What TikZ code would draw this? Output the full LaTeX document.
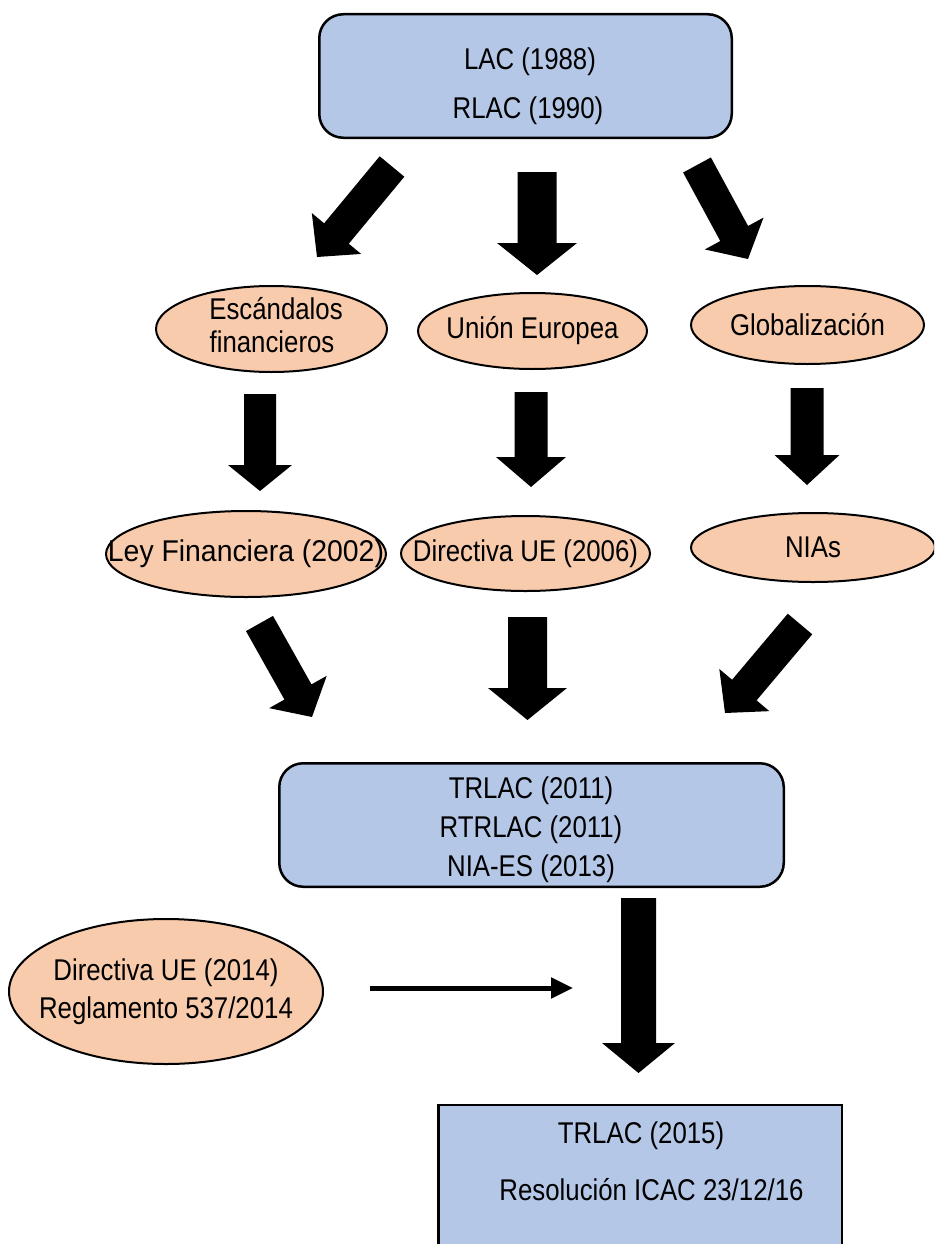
\documentclass[tikz,border=0pt]{standalone}
\usepackage{fontspec}
\usepackage{graphicx}
\setmainfont[FakeStretch=0.86]{Liberation Sans}
\usetikzlibrary{calc,shapes.geometric,arrows.meta}
\definecolor{boxblue}{HTML}{B4C7E7}
\definecolor{peach}{HTML}{F8CBAD}
% zero-width centred text, so that the ellipse keeps its own size
\newcommand\zw[1]{\makebox[0pt]{#1}}
% block arrow: #1 start coord, #2 tip coord, #3 half shaft width, #4 half head width, #5 head length
\newcommand\blockarrow[5]{%
  \path (#1) coordinate (ba-s) (#2) coordinate (ba-t) ($(#2)!#5pt!(#1)$) coordinate (ba-b);
  \fill[black] ($(ba-s)!#3pt!90:(ba-t)$) -- ($(ba-b)!#3pt!-90:(ba-s)$) -- ($(ba-b)!#4pt!-90:(ba-s)$)
    -- (ba-t) -- ($(ba-b)!#4pt!90:(ba-s)$) -- ($(ba-b)!#3pt!90:(ba-s)$) -- ($(ba-s)!#3pt!-90:(ba-t)$) -- cycle;}
\begin{document}
\begin{tikzpicture}[x=1pt,y=-1pt,
  txt/.style={font=\fontsize{30}{36}\selectfont, inner sep=0pt, anchor=base},
  bluebox/.style={draw=black, line width=2.5pt, fill=boxblue, inner sep=0pt},
  roundbox/.style={bluebox, rounded corners=24pt},
  oval/.style={draw=black, line width=2pt, fill=peach, ellipse, inner sep=0pt, align=center,
               font=\fontsize{30}{36}\selectfont},
  thinarrow/.style={line width=5pt, -{Triangle[length=22pt,width=20pt]}}
]
\useasboundingbox (0,0) rectangle (934,1244);
\clip (0,0) rectangle (934,1244);

% top box
\node[roundbox, minimum width=412.5pt, minimum height=123.5pt] (top) at (525.5,76) {};
\node[txt] (top1) at (530,70) {LAC (1988)};
\node[txt] (top2) at (528,118) {RLAC (1990)};

% first row of ellipses
\node[oval, minimum width=231pt, minimum height=86pt] (esc) at (271.5,329) {};
\node[txt] (esc1) at (276,319) {Escándalos};
\node[txt] (esc2) at (272,352) {financieros};
\node[oval, minimum width=229pt, minimum height=76pt] (ue) at (532.5,331) {\zw{Unión Europea}};
\node[oval, minimum width=233pt, minimum height=78pt] (glob) at (807.5,325) {\zw{Globalización}};

% second row of ellipses
\node[oval, minimum width=280pt, minimum height=86pt] (ley) at (246,554) {\zw{\scalebox{1.1}[1]{Ley Financiera (2002)}}};
\node[oval, minimum width=249pt, minimum height=75pt] (dir06) at (525.5,553.5) {\zw{Directiva UE (2006)}};
\node[oval, minimum width=244pt, minimum height=69pt] (nias) at (813,547.5) {\zw{NIAs}};

% middle box
\node[roundbox, minimum width=504.5pt, minimum height=123.5pt] (mid) at (531.5,825) {};
\node[txt] (mid1) at (531,798) {TRLAC (2011)};
\node[txt] (mid2) at (531,837) {RTRLAC (2011)};
\node[txt] (mid3) at (531,876) {NIA-ES (2013)};

% left ellipse
\node[oval, minimum width=314pt, minimum height=145pt, font=\fontsize{30}{38}\selectfont] (dir14) at (166,991.5)
  {\zw{Directiva UE (2014)}\\\zw{Reglamento 537/2014}};

% bottom box
\node[bluebox, minimum width=403.5pt, minimum height=165pt] (bot) at (640,1187.5) {};
\node[txt] (bot1) at (641,1143) {TRLAC (2015)};
\node[txt] (bot2) at (651.5,1200) {Resolución ICAC 23/12/16};

% arrow anchor coordinates
\coordinate (a1s) at (392,166.5); \coordinate (a1t) at (317,257);
\coordinate (a2s) at (537,172);   \coordinate (a2t) at (537,275);
\coordinate (a3s) at (697,165);   \coordinate (a3t) at (748,259);
\coordinate (b1s) at (260,394);   \coordinate (b1t) at (260,491);
\coordinate (b2s) at (531,392);   \coordinate (b2t) at (531,487);
\coordinate (b3s) at (807,388);   \coordinate (b3t) at (807,485);
\coordinate (c1s) at (259.5,623.5); \coordinate (c1t) at (312,717);
\coordinate (c2s) at (527.5,617); \coordinate (c2t) at (527.5,720);
\coordinate (c3s) at (800,624);   \coordinate (c3t) at (725,713);
\coordinate (d1s) at (638.5,898); \coordinate (d1t) at (638.5,1073);
\coordinate (ts) at (370,988);    \coordinate (te) at (573,988);

\blockarrow{a1s}{a1t}{16}{32}{30.5}
\blockarrow{a2s}{a2t}{19.5}{40}{32}
\blockarrow{a3s}{a3t}{15.8}{33.4}{29}
\blockarrow{b1s}{b1t}{16}{32}{26}
\blockarrow{b2s}{b2t}{16.5}{35}{30}
\blockarrow{b3s}{b3t}{16.5}{32.5}{30}
\blockarrow{c1s}{c1t}{15.5}{33}{28.7}
\blockarrow{c2s}{c2t}{19.5}{39.5}{32}
\blockarrow{c3s}{c3t}{16}{32.7}{30}
\blockarrow{d1s}{d1t}{17.5}{36.5}{30}

\draw[thinarrow] (ts) -- (te);
\end{tikzpicture}
\end{document}
